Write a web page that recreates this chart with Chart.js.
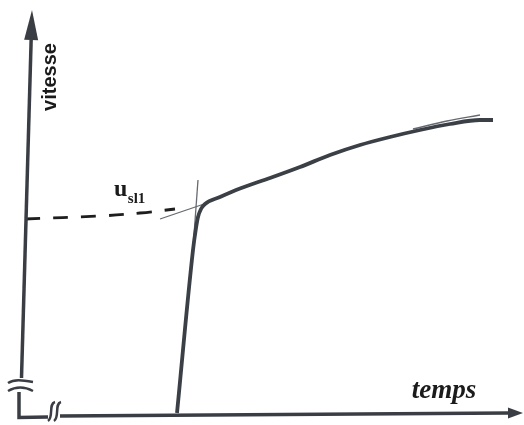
<!DOCTYPE html>
<html>
<head>
<meta charset="utf-8">
<script src="https://cdn.jsdelivr.net/npm/chart.js@4/dist/chart.umd.min.js"></script>
<style>
body { margin: 0; background: #fff; }
#wrap { width: 524px; height: 425px; }
</style>
</head>
<body>
<div id="wrap"><canvas id="vitesseChart" width="524" height="425"></canvas></div>
<script>
// courbe principale : vitesse en fonction du temps
const curveTemps = [35.4, 38.6, 39.2, 39.6, 40.2, 41.0, 44.0, 48.0, 54.0, 60.0, 66.0, 72.0, 78.0, 84.0, 90.0, 96.0, 98.6];
const curveVitesse = [2.4, 35.0, 39.4, 41.6, 43.2, 44.2, 45.6, 47.3, 49.4, 51.6, 54.0, 56.0, 57.6, 59.0, 60.2, 61.0, 61.0];

// palier u_sl1 (tirets)
const paliersTemps = [5, 20, 28, 35];
const paliersVitesse = [41.2, 41.8, 42.4, 43.2];

// tangentes fines
const tangenteBasTemps = [32.0, 41.4];
const tangenteBasVitesse = [41.2, 44.4];
const tangenteVertTemps = [38.4, 39.6];
const tangenteVertVitesse = [32.6, 49.0];
const tangenteHautTemps = [82.6, 89.4, 96.0];
const tangenteHautVitesse = [59.2, 60.8, 62.0];

const axisColor = "#3a3e44";
const textColor = "#1b1b1b";

function pts(xs, ys) {
    return xs.map((x, i) => ({ x: x, y: ys[i] }));
}

const axesPlugin = {
    id: "axesFleches",
    afterDatasetsDraw(chart) {
        const ctx = chart.ctx;
        const sx = chart.scales.x;
        const sy = chart.scales.y;
        const p = (t, v) => [sx.getPixelForValue(t), sy.getPixelForValue(v)];

        function seg(a, b, w) {
            ctx.lineWidth = w;
            ctx.beginPath();
            ctx.moveTo(a[0], a[1]);
            ctx.lineTo(b[0], b[1]);
            ctx.stroke();
        }
        function arrow(tip, from, len, half) {
            const dx = tip[0] - from[0], dy = tip[1] - from[1];
            const d = Math.hypot(dx, dy);
            const ux = dx / d, uy = dy / d;
            const bx = tip[0] - ux * len, by = tip[1] - uy * len;
            ctx.beginPath();
            ctx.moveTo(tip[0], tip[1]);
            ctx.lineTo(bx - uy * half, by + ux * half);
            ctx.lineTo(bx + uy * half, by - ux * half);
            ctx.closePath();
            ctx.fill();
            return [bx, by];
        }

        ctx.save();
        ctx.strokeStyle = axisColor;
        ctx.fillStyle = axisColor;

        // axe des vitesses
        const yTip = p(6.4, 83);
        const yBot = p(4.3, 9.4);
        const yBase = arrow(yTip, yBot, 30, 7);
        seg(yBot, yBase, 3.5);

        // coupures de l'axe vertical
        ctx.lineWidth = 2.5;
        let o = p(1.6, 8.4);
        ctx.beginPath();
        ctx.moveTo(o[0], o[1]);
        ctx.bezierCurveTo(o[0] + 6, o[1] - 4, o[0] + 14, o[1] - 3, o[0] + 25, o[1] - 1);
        ctx.stroke();
        o = p(1.6, 6.8);
        ctx.beginPath();
        ctx.moveTo(o[0], o[1]);
        ctx.quadraticCurveTo(o[0] + 12, o[1] - 7, o[0] + 25, o[1]);
        ctx.stroke();

        // coin en bas a gauche
        ctx.lineWidth = 3.5;
        ctx.beginPath();
        let c = p(3.8, 6.6);
        ctx.moveTo(c[0], c[1]);
        c = p(3.8, 1.5);
        ctx.lineTo(c[0], c[1]);
        c = p(9.6, 1.6);
        ctx.lineTo(c[0], c[1]);
        ctx.stroke();

        // coupures de l'axe horizontal
        ctx.lineWidth = 2.5;
        const b0 = p(11.0, 4.6);
        for (const off of [0, 6]) {
            ctx.beginPath();
            ctx.moveTo(b0[0] + off, b0[1]);
            ctx.bezierCurveTo(b0[0] + off - 7, b0[1] + 2, b0[0] + off - 1, b0[1] + 15, b0[0] + off - 7, b0[1] + 19);
            ctx.stroke();
        }

        // axe des temps
        const xStart = p(12, 1.8);
        const xTip = p(104.6, 2.4);
        const xBase = arrow(xTip, xStart, 15, 5.5);
        seg(xStart, xBase, 3.5);

        // textes
        ctx.fillStyle = textColor;
        ctx.font = "bold 20px 'Liberation Sans', Arial, sans-serif";
        ctx.textAlign = "center";
        ctx.textBaseline = "middle";
        const vt = p(10, 69.6);
        ctx.save();
        ctx.translate(vt[0], vt[1]);
        ctx.rotate(-Math.PI / 2);
        ctx.fillText("vitesse", 0, 0);
        ctx.restore();

        ctx.textBaseline = "alphabetic";
        ctx.font = "italic bold 27px 'Liberation Serif', serif";
        const tp = p(88.8, 5.4);
        ctx.fillText("temps", tp[0], tp[1]);

        ctx.textAlign = "left";
        ctx.font = "bold 24px 'Liberation Serif', serif";
        const up = p(22.8, 45.8);
        ctx.fillText("u", up[0], up[1]);
        const uw = ctx.measureText("u").width;
        ctx.font = "bold 15px 'Liberation Serif', serif";
        ctx.fillText("sl1", up[0] + uw + 0.5, up[1] + 7);

        ctx.restore();
    }
};

function createVitesseChart() {
    const ctx = document.getElementById("vitesseChart");
    const config = {
        type: "scatter",
        data: {
            datasets: [
                {
                    label: "vitesse",
                    data: pts(curveTemps, curveVitesse),
                    showLine: true,
                    borderColor: "#3b3f46",
                    borderWidth: 3.8,
                    pointRadius: 0,
                    cubicInterpolationMode: "monotone",
                },
                {
                    label: "u_sl1",
                    data: pts(paliersTemps, paliersVitesse),
                    showLine: true,
                    borderColor: "#1e1e1e",
                    borderWidth: 2.8,
                    borderDash: [15, 13],
                    pointRadius: 0,
                    tension: 0.4,
                },
                {
                    label: "tangente bas",
                    data: pts(tangenteBasTemps, tangenteBasVitesse),
                    showLine: true,
                    borderColor: "#666a70",
                    borderWidth: 1.3,
                    pointRadius: 0,
                },
                {
                    label: "tangente verticale",
                    data: pts(tangenteVertTemps, tangenteVertVitesse),
                    showLine: true,
                    borderColor: "#666a70",
                    borderWidth: 1.3,
                    pointRadius: 0,
                },
                {
                    label: "tangente haut",
                    data: pts(tangenteHautTemps, tangenteHautVitesse),
                    showLine: true,
                    borderColor: "#666a70",
                    borderWidth: 1.5,
                    pointRadius: 0,
                    tension: 0.4,
                },
            ],
        },
        options: {
            responsive: false,
            animation: false,
            layout: { padding: 0 },
            scales: {
                x: { type: "linear", min: 0, max: 104.8, display: false },
                y: { type: "linear", min: 0, max: 85, display: false },
            },
            plugins: {
                legend: { display: false },
                tooltip: { enabled: false },
            },
        },
        plugins: [axesPlugin],
    };
    new Chart(ctx, config);
}

document.addEventListener("DOMContentLoaded", function () {
    createVitesseChart();
});
</script>
</body>
</html>
